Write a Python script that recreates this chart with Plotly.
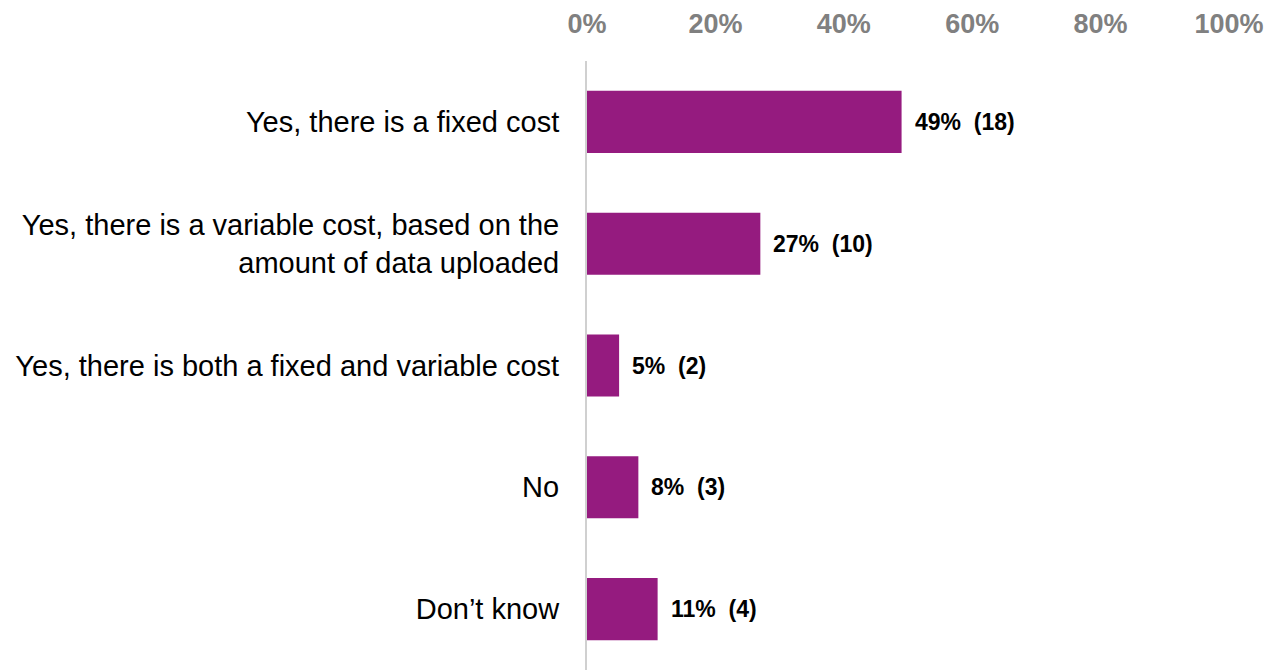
import plotly.graph_objects as go

categories = [
    "Yes, there is a fixed cost",
    "Yes, there is a variable cost, based on the<br>amount of data uploaded",
    "Yes, there is both a fixed and variable cost",
    "No",
    "Don’t know",
]
percent = [49, 27, 5, 8, 11]
counts = [18, 10, 2, 3, 4]
tick_vals = [0, 20, 40, 60, 80, 100]
tick_text = ["0%", "20%", "40%", "60%", "80%", "100%"]

labels = [f"<b>{p}%  ({n})</b>" for p, n in zip(percent, counts)]

fig = go.Figure(
    go.Bar(
        x=percent,
        y=categories,
        orientation="h",
        marker=dict(color="#951B7F", line=dict(width=0)),
        width=0.51,
        hoverinfo="skip",
    )
)

# value labels just to the right of each bar
for cat, p, lab in zip(categories, percent, labels):
    fig.add_annotation(
        x=p, y=cat, text=lab, showarrow=False,
        xanchor="left", yanchor="middle", xshift=11,
        font=dict(family="Liberation Sans, Arial, sans-serif", size=23, color="#000000"),
    )

fig.update_layout(
    width=1279,
    height=670,
    margin=dict(l=587, r=50, t=61, b=0),
    plot_bgcolor="white",
    paper_bgcolor="white",
    showlegend=False,
    xaxis=dict(
        side="top",
        range=[0, 100],
        tickvals=tick_vals,
        ticktext=tick_text,
        tickfont=dict(family="Liberation Sans Narrow, Arial Narrow, Liberation Sans, sans-serif",
                      size=27, color="#808080", weight="bold"),
        showgrid=False,
        zeroline=False,
        showline=False,
        ticks="",
        ticklabelstandoff=22,
    ),
    yaxis=dict(
        autorange="reversed",
        tickfont=dict(family="Liberation Sans, Arial, sans-serif", size=29, color="#000000"),
        showgrid=False,
        zeroline=False,
        showline=True,
        linecolor="#D0D0D0",
        linewidth=2,
        ticks="",
        ticklabelstandoff=20,
    ),
)

fig.write_html("out.html")
